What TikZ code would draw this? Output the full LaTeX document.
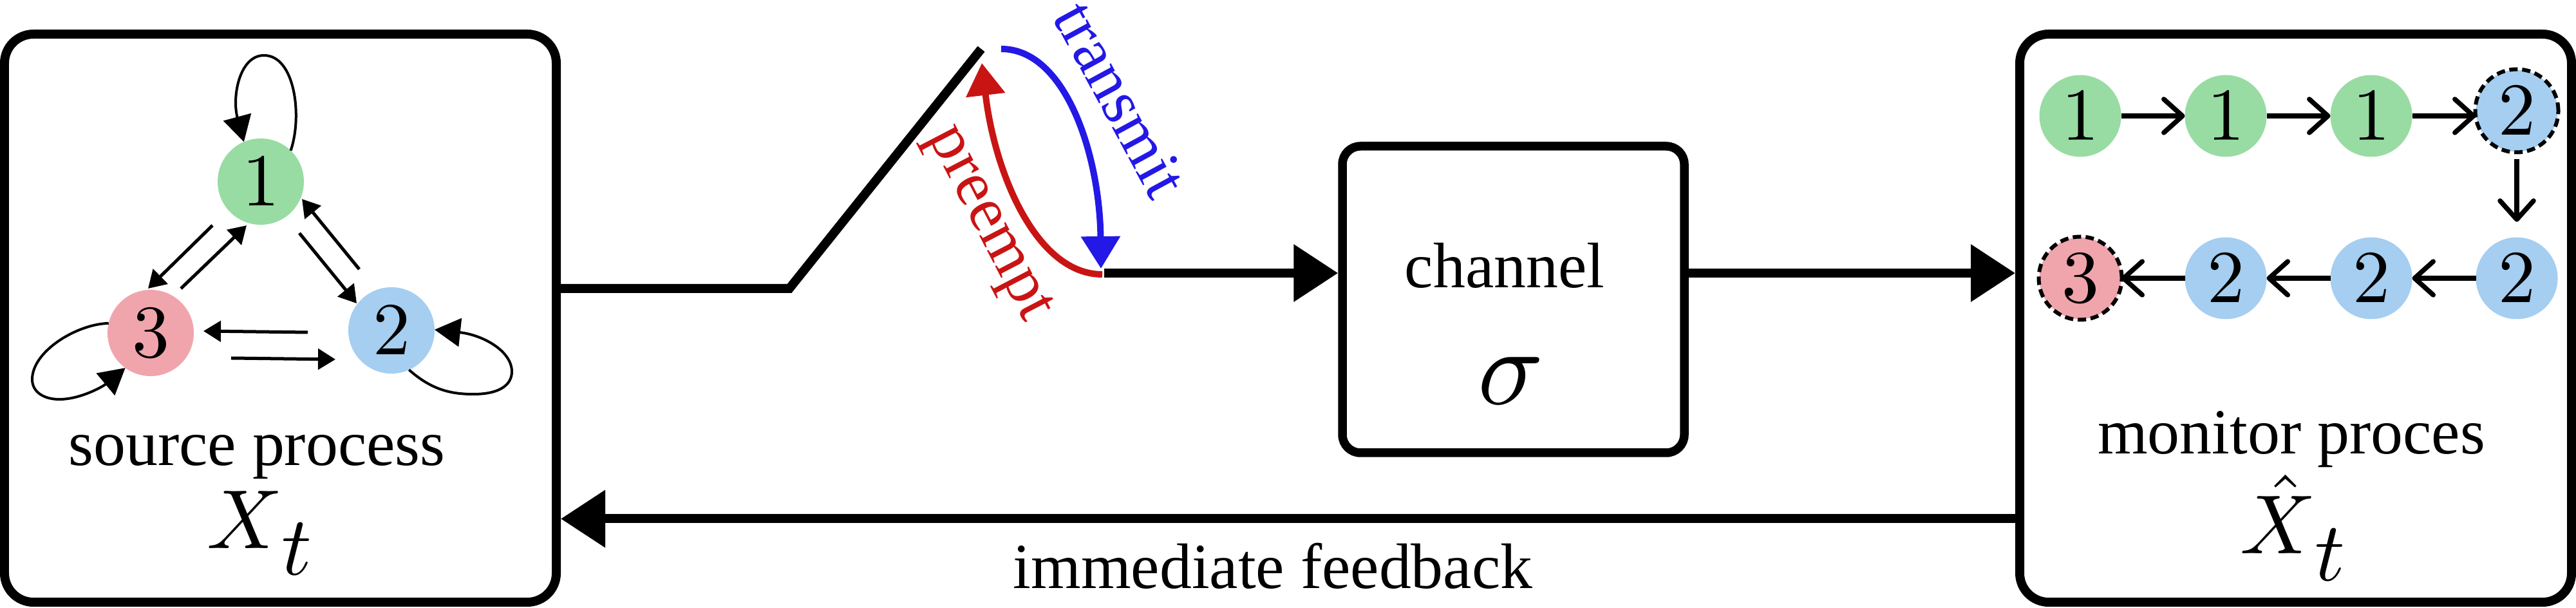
\documentclass[tikz,border=0pt]{standalone}
\usepackage{amsmath}
\usepackage[no-math]{fontspec}
\setmainfont{Liberation Serif}
\usetikzlibrary{arrows.meta, calc}
\DeclareFontShape{OT1}{cmr}{m}{n}{<-> cmr10}{}
\DeclareFontShape{OML}{cmm}{m}{it}{<-> cmmi10}{}
\definecolor{stategreen}{RGB}{152,220,163}
\definecolor{stateblue}{RGB}{165,206,240}
\definecolor{statepink}{RGB}{240,165,173}
\definecolor{sendblue}{RGB}{35,24,230}
\definecolor{stopred}{RGB}{201,20,20}
\newcommand{\labelfont}{\fontsize{28.4}{30}\selectfont}
\newcommand{\lowt}{\kern-0.02em\lower0.32em\hbox{$t$}}

\begin{document}
\begin{tikzpicture}
	\tikzset{
		box/.style = {rectangle, draw=black, line width=.14cm, rounded corners=.45cm, minimum width=8.57cm, minimum height=8.82cm},
		txt/.style = {inner sep=0, anchor=base, font=\labelfont},
		bigmath/.style = {inner sep=0, anchor=base, font=\fontsize{37}{39}\selectfont},
		statenode/.style = {circle, inner sep=0, outer sep=0, minimum size=1.34cm, font=\fontsize{33}{35}\selectfont},
		chainnode/.style = {statenode, minimum size=1.27cm},
		dashring/.style = {circle, draw=black, line width=.06cm, dash pattern=on .13cm off .07cm, inner sep=0, minimum size=1.29cm},
		mainarrow/.style = {line width=.14cm, -{Triangle[length=.69cm,width=.86cm]}},
		swingarrow/.style = {line width=.1cm, -{Triangle[length=.5cm,width=.59cm]}},
		flowarrow/.style = {line width=.05cm, -{Triangle[length=.27cm,width=.32cm]}},
		looparrow/.style = {line width=.04cm, -{Triangle[length=.4cm,width=.44cm]}},
		chainarrow/.style = {line width=.075cm, -{Straight Barb[length=.29cm,width=.52cm,round]}}
	}
	\useasboundingbox (0,0) rectangle (40.01,9.44);

	\node[box] (source_box) at (4.355,4.50) {};
	\node[box] (monitor_box) at (35.655,4.50) {};
	\node[box, line width=.135cm, rounded corners=.28cm, minimum width=5.31cm, minimum height=4.76cm] (channel_box) at (23.505,4.79) {};

	\node[statenode, fill=stategreen] (src_1) at (4.05,6.62) {$1$};
	\node[statenode, fill=stateblue] (src_2) at (6.08,4.31) {$2$};
	\node[statenode, fill=statepink] (src_3) at (2.34,4.27) {$3$};

	\node[txt] (source_text) at (3.99,2.21) {source process};
	\node[bigmath] (source_math) at (4.03,.93) {$X\lowt$};
	\node[txt] (channel_text) at (23.37,4.97) {channel};
	\node[inner sep=0, anchor=base, font=\fontsize{48}{50}\selectfont] (channel_math) at (23.47,3.16) {$\sigma$};
	\node[txt] (monitor_text) at (35.59,2.39) {monitor proces};
	\node[bigmath] (monitor_math) at (35.61,.84) {$\hat{X}\lowt$};
	\node[txt] (feedback_text) at (19.77,.30) {immediate feedback};
	\node[txt, text=sendblue, rotate=-61.5] (transmit_text) at (17.12,7.74) {transmit};
	\node[txt, text=stopred, rotate=-62.5] (preempt_text) at (15.17,5.87) {preempt};

	\node[chainnode, fill=stategreen] (mon_1) at (32.31,7.64) {$1$};
	\node[chainnode, fill=stategreen] (mon_2) at (34.57,7.64) {$1$};
	\node[chainnode, fill=stategreen] (mon_3) at (36.83,7.64) {$1$};
	\node[chainnode, fill=stateblue] (mon_4) at (39.09,7.72) {$2$};
	\node[chainnode, fill=stateblue] (mon_5) at (39.09,5.12) {$2$};
	\node[chainnode, fill=stateblue] (mon_6) at (36.83,5.12) {$2$};
	\node[chainnode, fill=stateblue] (mon_7) at (34.57,5.12) {$2$};
	\node[chainnode, fill=statepink] (mon_8) at (32.31,5.12) {$3$};

	%Overlapping rings to mark the two changes of state
	\node[dashring] (ring_4) at (mon_4) {};
	\node[dashring] (ring_8) at (mon_8) {};

	\coordinate (sw_low) at (12.26,4.96);
	\coordinate (sw_top) at (15.24,8.68);
	\coordinate (sw_out) at (17.15,5.20);
	\coordinate (tr_start) at (15.55,8.68);
	\coordinate (tr_end) at (17.10,5.27);
	\coordinate (pr_start) at (17.12,5.18);
	\coordinate (pr_end) at (15.25,8.46);
	\coordinate (fb_line) at (20,1.385);

	\draw[line width=.14cm] (source_box.east |- sw_low) -- (sw_low) -- (sw_top);
	\draw
	(sw_out) edge[mainarrow] (channel_box.west |- sw_out)
	(channel_box.east |- sw_out) edge[mainarrow] (monitor_box.west |- sw_out)
	(monitor_box.west |- fb_line) edge[mainarrow] (source_box.east |- fb_line)
	;
	\draw[swingarrow, draw=sendblue] (tr_start) .. controls (16.55,8.68) and (17.08,7.04) .. (tr_end);
	\draw[swingarrow, draw=stopred] (pr_start) .. controls (16.10,5.18) and (15.45,6.74) .. (pr_end);

	\draw
	($(src_3)+(.47,.69)$) edge[flowarrow] ($(src_1)+(-.22,-.68)$)
	($(src_1)+(-.75,-.68)$) edge[flowarrow] ($(src_3)+(-.04,.69)$)
	($(src_1)+(.60,-.80)$) edge[flowarrow] ($(src_2)+(-.54,.42)$)
	($(src_2)+(-.50,.95)$) edge[flowarrow] ($(src_1)+(.64,-.27)$)
	($(src_2)+(-1.30,-.03)$) edge[flowarrow] ($(src_3)+(.82,.03)$)
	($(src_3)+(1.25,-.39)$) edge[flowarrow] ($(src_2)+(-.87,-.45)$)
	;
	\draw[looparrow] (src_1.46) .. controls (4.70,7.64) and (4.58,8.58) .. (4.10,8.58) .. controls (3.72,8.58) and (3.60,7.94) .. (src_1.113);
	\draw[looparrow] (src_2.-66) .. controls (6.70,3.39) and (7.00,3.32) .. (7.35,3.32) .. controls (7.80,3.32) and (7.95,3.49) .. (7.95,3.67) .. controls (7.95,3.99) and (7.50,4.24) .. (src_2.1);
	\draw[looparrow] (src_3.167) .. controls (1.20,4.41) and (0.50,3.99) .. (0.50,3.55) .. controls (0.50,3.34) and (0.70,3.24) .. (0.92,3.24) .. controls (1.25,3.24) and (1.60,3.44) .. (src_3.234);

	\draw
	(mon_1) edge[chainarrow] (mon_2)
	(mon_2) edge[chainarrow] (mon_3)
	(mon_3) edge[chainarrow] (mon_4.west |- mon_3)
	(mon_4) edge[chainarrow, shorten <=.115cm, shorten >=.24cm] (mon_5)
	(mon_5) edge[chainarrow] (mon_6)
	(mon_6) edge[chainarrow] (mon_7)
	(mon_7) edge[chainarrow] (mon_8)
	;
\end{tikzpicture}
\end{document}
